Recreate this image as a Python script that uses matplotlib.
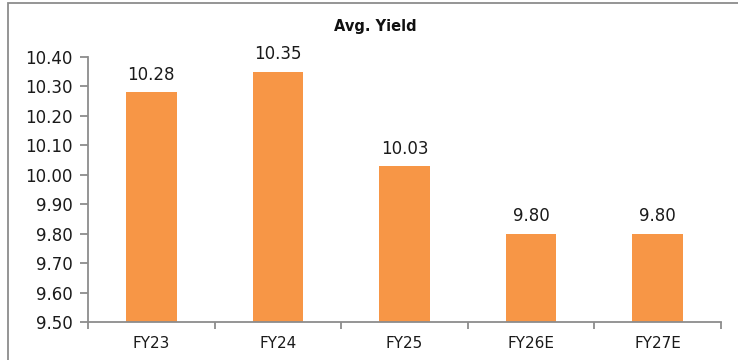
import matplotlib
matplotlib.use("Agg")
import matplotlib.pyplot as plt
from matplotlib.patches import Rectangle
from matplotlib.ticker import FixedLocator, NullFormatter

categories = ["FY23", "FY24", "FY25", "FY26E", "FY27E"]
avg_yield = [10.28, 10.35, 10.03, 9.80, 9.80]
y_ticks = [9.50, 9.60, 9.70, 9.80, 9.90, 10.00, 10.10, 10.20, 10.30, 10.40]

W, H = 738, 360
fig = plt.figure(figsize=(W / 100, H / 100), dpi=100)
fig.patch.set_facecolor("white")

# outer chart frame (runs off the right and bottom edges)
fig.patches.append(Rectangle((8 / W, -0.1), 1.2, (H - 3) / H + 0.1,
                             transform=fig.transFigure, fill=False,
                             edgecolor="#8c8c8c", linewidth=1.3))

ax = fig.add_axes([88 / W, (H - 322) / H, (721 - 88) / W, (322 - 57) / H])
x = range(len(categories))
bar_color = "#F79646"
ax.bar(x, avg_yield, width=0.4, color=bar_color, edgecolor="none", zorder=2)

ax.set_ylim(9.50, 10.40)
ax.set_xlim(-0.5, len(categories) - 0.5)
ax.set_yticks(y_ticks)
ax.set_yticklabels([f"{v:.2f}" for v in y_ticks])

ax.set_xticks(list(x))
ax.set_xticklabels(categories)
ax.xaxis.set_minor_locator(FixedLocator([i - 0.5 for i in range(len(categories) + 1)]))
ax.xaxis.set_minor_formatter(NullFormatter())
ax.tick_params(axis="x", which="major", length=0, pad=10, labelsize=11, labelcolor="#1a1a1a")
ax.tick_params(axis="x", which="minor", length=5, width=1.3, color="#8c8c8c", direction="out")
ax.tick_params(axis="y", length=6, width=1.3, color="#8c8c8c", direction="out",
               pad=5, labelsize=12, labelcolor="#1a1a1a")

for side in ("top", "right"):
    ax.spines[side].set_visible(False)
for side in ("left", "bottom"):
    ax.spines[side].set_color("#8c8c8c")
    ax.spines[side].set_linewidth(1.3)

for i, v in enumerate(avg_yield):
    ax.annotate(f"{v:.2f}", (i, v), xytext=(0, 6), textcoords="offset points",
                ha="center", va="bottom", fontsize=12, color="#1a1a1a")

fig.text(375 / W, 1 - 26 / H, "Avg. Yield", ha="center", va="center",
         fontsize=10.5, fontweight="bold", color="#111111")

fig.savefig("out.png", dpi=100)
